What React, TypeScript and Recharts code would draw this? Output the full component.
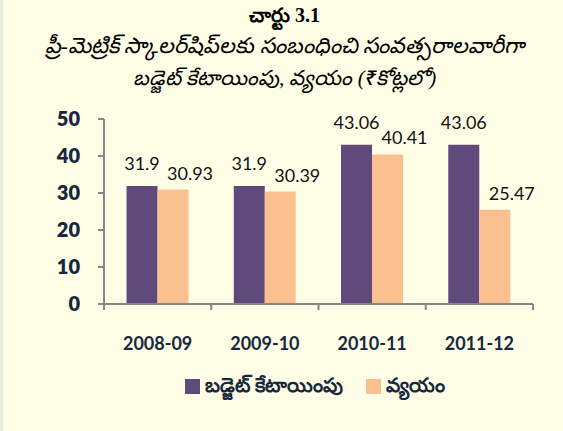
import { BarChart, Bar, XAxis, YAxis, LabelList } from 'recharts';

const years = ['2008-09', '2009-10', '2010-11', '2011-12'];
const budget = [31.9, 31.9, 43.06, 43.06];
const spent = [30.93, 30.39, 40.41, 25.47];
const yTicks = [0, 10, 20, 30, 40, 50];
const seriesNames = ['బడ్జెట్ కేటాయింపు', 'వ్యయం'];
const seriesColors = ['#604A7B', '#FAC090'];

const data = years.map((year, i) => ({ year, budget: budget[i], spent: spent[i] }));

const FONT = 'Lato, "Open Sans", sans-serif';
const TEXT_NAVY = '#17273F';
const AXIS_GREY = '#868686';
const PLOT_LEFT = 101;
const PLOT_RIGHT = 530;
const HALF_BAND = (PLOT_RIGHT - PLOT_LEFT) / years.length / 2;

const XTick = (props: any) => {
  const { x, y, payload, index } = props;
  return (
    <g>
      <line x1={x - HALF_BAND} y1={y - 8} x2={x - HALF_BAND} y2={y - 2} stroke={AXIS_GREY} strokeWidth={2} />
      {index === years.length - 1 && (
        <line x1={x + HALF_BAND} y1={y - 8} x2={x + HALF_BAND} y2={y - 2} stroke={AXIS_GREY} strokeWidth={2} />
      )}
      <text x={x} y={y + 38} textAnchor="middle" fontFamily={FONT} fontWeight={700} fontSize={18} fill={TEXT_NAVY}>
        {payload.value}
      </text>
    </g>
  );
};

const makeLabel = (dx: number, gap: number) => (props: any) => {
  const { x, y, width, value } = props;
  return (
    <text x={x + width / 2 + dx} y={y - gap} textAnchor="middle" fontFamily={FONT} fontSize={18} fill="#111">
      {value}
    </text>
  );
};

export default function App() {
  return (
    <div
      style={{
        position: 'fixed',
        left: 0,
        top: 0,
        width: 563,
        height: 431,
        background: '#FEFEE6',
        borderLeft: '3px solid #E6EFD9',
        boxSizing: 'border-box',
        overflow: 'hidden',
      }}
    >
      <div
        style={{
          position: 'absolute',
          left: 0,
          top: 0,
          width: 563,
          textAlign: 'center',
          fontFamily: '"Liberation Serif", "Noto Sans", serif',
          color: '#000',
        }}
      >
        <div style={{ fontSize: 20, fontWeight: 700, lineHeight: '30px' }}>చార్టు 3.1</div>
        <div style={{ fontSize: 22, fontStyle: 'italic', lineHeight: '32px' }}>
          ప్రీ-మెట్రిక్ స్కాలర్‌షిప్‌లకు సంబంధించి సంవత్సరాలవారీగా
        </div>
        <div style={{ fontSize: 21, fontStyle: 'italic', fontWeight: 500, lineHeight: '32px' }}>
          బడ్జెట్ కేటాయింపు, వ్యయం (₹కోట్లలో)
        </div>
      </div>
      <div style={{ position: 'absolute', left: 0, top: 0 }}>
        <BarChart
          width={563}
          height={431}
          data={data}
          margin={{ top: 119, right: 563 - PLOT_RIGHT, bottom: 97, left: PLOT_LEFT - 60 }}
          barCategoryGap="21%"
          barGap={0}
        >
          <YAxis
            width={60}
            domain={[0, 50]}
            ticks={yTicks}
            interval={0}
            tickSize={6}
            tickMargin={18}
            axisLine={{ stroke: AXIS_GREY, strokeWidth: 2 }}
            tickLine={{ stroke: AXIS_GREY, strokeWidth: 2 }}
            tick={{ fontFamily: FONT, fontWeight: 800, fontSize: 20, fill: TEXT_NAVY }}
          />
          <XAxis
            dataKey="year"
            height={30}
            axisLine={{ stroke: AXIS_GREY, strokeWidth: 2 }}
            tickLine={false}
            tick={<XTick />}
            interval={0}
          />
          <Bar dataKey="budget" fill={seriesColors[0]} isAnimationActive={false}>
            <LabelList dataKey="budget" content={makeLabel(0, 16)} />
          </Bar>
          <Bar dataKey="spent" fill={seriesColors[1]} isAnimationActive={false}>
            <LabelList dataKey="spent" content={makeLabel(17, 10)} />
          </Bar>
        </BarChart>
      </div>
      <div
        style={{
          position: 'absolute',
          top: 371,
          left: 182,
          display: 'flex',
          alignItems: 'center',
          fontFamily: '"Noto Sans", sans-serif',
          fontSize: 20,
          fontWeight: 700,
          color: TEXT_NAVY,
        }}
      >
        {seriesNames.map((name, i) => (
          <div key={name} style={{ display: 'flex', alignItems: 'center', marginRight: 23 }}>
            <span style={{ width: 15, height: 15, background: seriesColors[i], marginRight: 5 }} />
            <span>{name}</span>
          </div>
        ))}
      </div>
    </div>
  );
}
